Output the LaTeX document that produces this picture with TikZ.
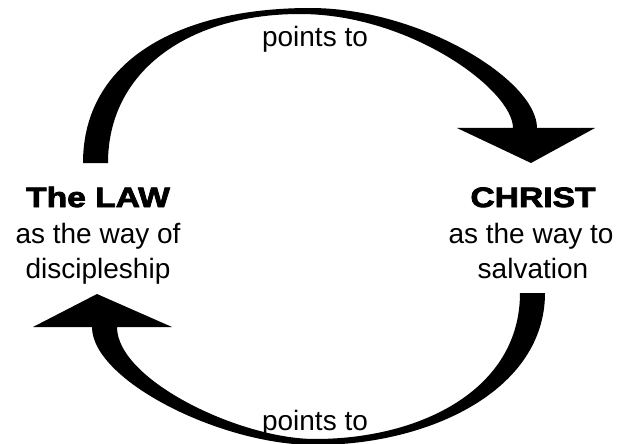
\documentclass[tikz,border=0pt]{standalone}
\usepackage{fontspec}
\setmainfont{Liberation Sans}
\newfontfamily\heavyfont{Liberation Sans Bold}[FakeBold=3, FakeStretch=1.2]

\tikzset{
    plaintext/.style={anchor=base, inner sep=0pt, font=\fontsize{28}{34}\selectfont},
    heavytext/.style={anchor=base, inner sep=0pt, font=\fontsize{28}{34}\heavyfont},
    bigarrow/.style={fill=black}
}

\begin{document}
\begin{tikzpicture}[x=1pt, y=-1pt]
    \useasboundingbox (0,0) rectangle (622,444);

    % Left side
    \node[heavytext] (law) at (98,207) {The LAW};
    \node[plaintext] (lawa) at (98,243) {as the way of};
    \node[plaintext] (lawb) at (98,278) {discipleship};

    % Right side
    \node[heavytext] (christ) at (533,207) {CHRIST};
    \node[plaintext] (christa) at (531,243) {as the way to};
    \node[plaintext] (christb) at (533,278) {salvation};

    % Upper arrow
    \fill[bigarrow] (83,163) .. controls (83,60) and (180,8) .. (310,8)
        .. controls (420,8) and (537,80) .. (537,128)
        -- (595,128) -- (531,163) -- (457,128) -- (513,128)
        .. controls (513,90) and (410,14) .. (300,14)
        .. controls (190,14) and (108,70) .. (108,163) -- cycle;
    \node[plaintext] (uplabel) at (315,47) {points to};

    % Lower arrow
    \fill[bigarrow] (545,293) .. controls (545,390) and (430,445) .. (315,445)
        .. controls (220,445) and (92,380) .. (92,327)
        -- (33,327) -- (97,294) -- (172,327) -- (117,327)
        .. controls (117,380) and (240,439) .. (315,439)
        .. controls (420,439) and (520,390) .. (520,293) -- cycle;
    \node[plaintext] (lowlabel) at (315,430) {points to};
\end{tikzpicture}
\end{document}
